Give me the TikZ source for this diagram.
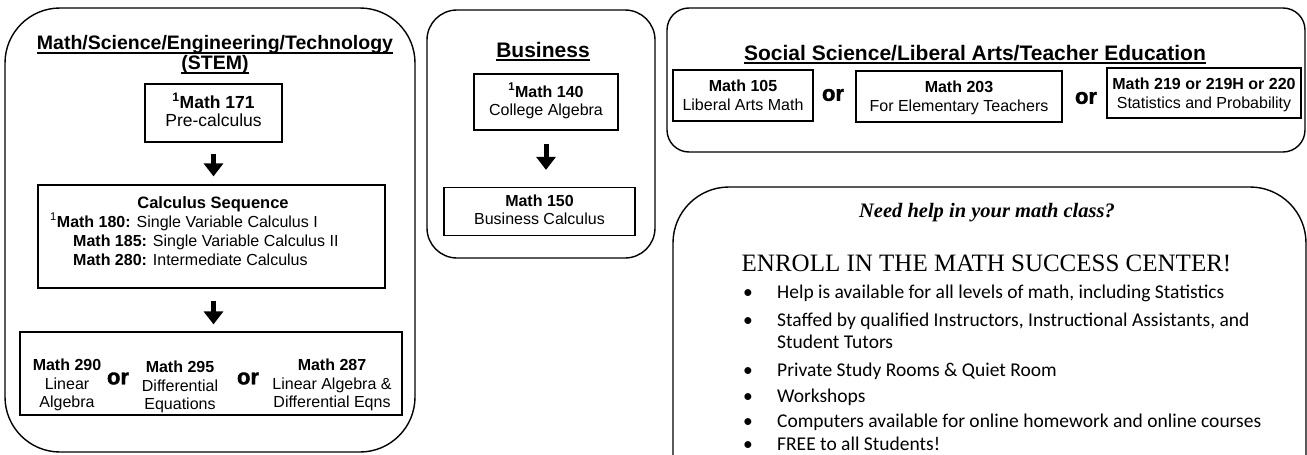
\documentclass[tikz,border=0pt]{standalone}
\usepackage{fontspec}
\setmainfont{Liberation Sans}
\newfontfamily\tnr{Liberation Serif}
\newfontfamily\calib{Carlito}
\newfontfamily\heavy[FakeBold=1.6]{Liberation Sans}
\usetikzlibrary{arrows.meta}
\newcommand\fsz[1]{\fontsize{#1pt}{#1pt}\selectfont}
\newcommand\ulin[2][3.6pt]{\setbox0\hbox{#2}\rlap{\rule[-#1]{\wd0}{1.8pt}}\box0}
\begin{document}
\begin{tikzpicture}[x=1pt,y=-1pt,
  panel/.style={draw, line width=1.4pt, inner sep=0pt},
  crs/.style={draw, line width=1.2pt, inner sep=0pt},
  lbl/.style={inner sep=0pt, anchor=base},
  lblw/.style={inner sep=0pt, anchor=base west},
  ttl/.style={lbl, font=\fsz{21}\bfseries},
  hd/.style={lbl, font=\fsz{16}\bfseries},
  sub/.style={lbl, font=\fsz{16}},
  orr/.style={inner sep=0pt, font=\heavy\fsz{22}\bfseries},
  arr/.style={line width=5pt, -{Triangle[width=19pt,length=13pt]}},
  bul/.style={lblw, font=\calib\fsz{19.5}},
  dot/.style={lbl, font=\calib\fsz{19.5}},
]
\useasboundingbox (0,0) rectangle (1307,455);
\clip (0,0) rectangle (1307,455);
% ---- panels
\node[panel, rounded corners=55pt, minimum width=410pt, minimum height=444pt] (stem) at (210,230) {};
\node[panel, rounded corners=30pt, minimum width=228pt, minimum height=248pt] (bus) at (541,134) {};
\node[panel, rounded corners=22pt, minimum width=638pt, minimum height=144pt] (soc) at (986,80) {};
\node[panel, rounded corners=56pt, minimum width=633pt, minimum height=400pt] (help) at (989.5,387) {};

% ---- STEM
\node[ttl, font=\fsz{19.5}\bfseries] (stemt1) at (215,49) {\ulin[5pt]{Math/Science/Engineering/Technology}};
\node[ttl, font=\fsz{19.5}\bfseries] (stemt2) at (215,69.5) {\ulin[4pt]{(STEM)}};

\node[crs, minimum width=137pt, minimum height=58pt] (b171) at (213.5,113) {};
\node[lbl, font=\fsz{17.5}\bfseries] (b171a) at (213.5,108) {\textsuperscript{1}Math 171};
\node[lbl, font=\fsz{17.5}] (b171b) at (213.5,126) {Pre-calculus};

\node[crs, minimum width=347pt, minimum height=103pt] (calc) at (211.5,236.5) {};
\node[lbl, font=\fsz{16.5}\bfseries] (calct) at (213,208) {Calculus Sequence};
\node[lblw, font=\fsz{16}] (c180) at (50,227) {\textsuperscript{1}\textbf{Math 180:} Single Variable Calculus I};
\node[lblw, font=\fsz{16}] (c185) at (73,246) {\textbf{Math 185:} Single Variable Calculus II};
\node[lblw, font=\fsz{16}] (c280) at (73,265) {\textbf{Math 280:} Intermediate Calculus};

\node[crs, minimum width=382pt, minimum height=83pt] (adv) at (211,373.5) {};
\node[hd] (m290a) at (67,370.5) {Math 290};
\node[sub] (m290b) at (67,389) {Linear};
\node[sub] (m290c) at (67,407.5) {Algebra};
\node[orr] (or1) at (118,378.5) {or};
\node[hd] (m295a) at (180,372.5) {Math 295};
\node[sub] (m295b) at (180,391) {Differential};
\node[sub] (m295c) at (180,409) {Equations};
\node[orr] (or2) at (248,378.5) {or};
\node[hd] (m287a) at (332,370.5) {Math 287};
\node[sub] (m287b) at (332,389) {Linear Algebra \&};
\node[sub] (m287c) at (332,407.5) {Differential Eqns};

\draw[arr, shorten <=11pt, shorten >=8pt] (b171.south) -- (b171.south |- calc.north);
\draw[arr, shorten <=12pt, shorten >=7pt] (b171.south |- calc.south) -- (b171.south |- adv.north);

% ---- Business
\node[ttl] (bust) at (543,57) {\ulin{Business}};
\node[crs, minimum width=144pt, minimum height=56pt] (b140) at (546,102) {};
\node[hd] (b140a) at (546,97) {\textsuperscript{1}Math 140};
\node[sub] (b140b) at (546,115) {College Algebra};
\node[crs, minimum width=191pt, minimum height=48pt] (b150) at (539.5,211.5) {};
\node[hd] (b150a) at (539.5,206) {Math 150};
\node[sub] (b150b) at (539.5,224) {Business Calculus};
\draw[arr, shorten <=13pt, shorten >=17pt] (b140.south) -- (b140.south |- b150.north);

% ---- Social science
\node[ttl] (soct) at (975,60) {\ulin{Social Science/Liberal Arts/Teacher Education}};
\node[crs, minimum width=140pt, minimum height=51pt] (b105) at (743,95.5) {};
\node[hd] (b105a) at (743,91.5) {Math 105};
\node[sub] (b105b) at (743,110.5) {Liberal Arts Math};
\node[orr] (or3) at (833,95) {or};
\node[crs, minimum width=206pt, minimum height=51pt] (b203) at (959,96.5) {};
\node[hd] (b203a) at (959,92.5) {Math 203};
\node[sub] (b203b) at (959,111.5) {For Elementary Teachers};
\node[orr] (or4) at (1086,98) {or};
\node[crs, minimum width=194pt, minimum height=50pt] (b219) at (1204,93) {};
\node[hd] (b219a) at (1204,89) {Math 219 or 219H or 220};
\node[sub] (b219b) at (1204,108) {Statistics and Probability};

% ---- Help
\node[lbl, font=\tnr\fsz{20.5}\bfseries\itshape] (need) at (987,217) {Need help in your math class?};
\node[lbl, font=\tnr\fsz{25}] (enroll) at (986.5,271) {ENROLL IN THE MATH SUCCESS CENTER!};
\node[dot] (d1) at (748,298) {\textbullet};
\node[bul] (l1) at (777,298) {Help is available for all levels of math, including Statistics};
\node[dot] (d2) at (748,326) {\textbullet};
\node[bul] (l2) at (777,326) {Staffed by qualified Instructors, Instructional Assistants, and};
\node[bul] (l2b) at (777,348) {Student Tutors};
\node[dot] (d3) at (748,376) {\textbullet};
\node[bul] (l3) at (777,376) {Private Study Rooms \& Quiet Room};
\node[dot] (d4) at (748,402) {\textbullet};
\node[bul] (l4) at (777,402) {Workshops};
\node[dot] (d5) at (748,427) {\textbullet};
\node[bul] (l5) at (777,427) {Computers available for online homework and online courses};
\node[dot] (d6) at (748,450) {\textbullet};
\node[bul] (l6) at (777,450) {FREE to all Students!};
\end{tikzpicture}
\end{document}
